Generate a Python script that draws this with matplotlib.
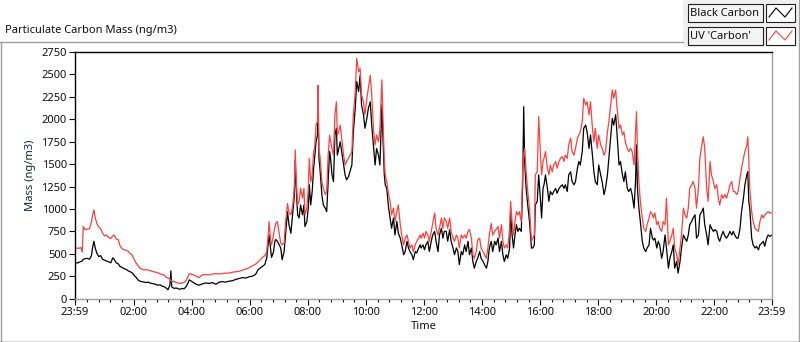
import numpy as np
import matplotlib
matplotlib.use('Agg')
import matplotlib.pyplot as plt
from matplotlib.lines import Line2D
from matplotlib.patches import Rectangle

plt.rcParams['font.family'] = ['Noto Sans', 'DejaVu Sans']

# minutes after 23:59
time_min = [
    0, 6, 12, 15, 17, 21, 25, 30, 34, 36, 39, 42, 45, 49, 53, 57, 61, 65, 70, 74,
    78, 81, 85, 89, 93, 97, 101, 105, 110, 114, 118, 122, 126, 130, 134, 138, 143, 147, 151, 155,
    159, 163, 167, 171, 176, 180, 184, 188, 192, 196, 198, 200, 205, 209, 213, 217, 221, 225, 229, 234,
    236, 242, 249, 256, 263, 270, 277, 284, 291, 298, 304, 311, 318, 325, 332, 339, 346, 353, 360, 366,
    373, 378, 382, 387, 392, 396, 399, 401, 404, 406, 410, 413, 415, 418, 422, 425, 428, 432, 435, 439,
    442, 446, 450, 453, 455, 457, 460, 463, 466, 470, 473,
    475, 479, 482, 484, 487, 490, 493, 495, 498, 501, 502, 504, 506, 510, 513, 517, 520, 523, 526, 528,
    531, 534, 537, 540, 542, 545, 548, 551, 555, 558, 561, 565, 568, 572, 575, 579, 582, 586, 589, 592,
    596, 599, 603, 606, 610, 613, 617, 620, 623, 627, 630, 634, 636, 639, 641, 644, 648, 651, 654, 658,
    661, 665, 668, 672, 675, 679, 682, 686, 689, 692, 696, 699, 703, 706, 710, 713,
    715, 719, 722, 725, 729, 732, 736, 739, 743, 746, 750, 753, 757, 760, 763, 767, 770, 774, 777, 781,
    784, 788, 791, 794, 798, 801, 805, 808, 812, 815, 819, 822, 825, 829, 832, 836, 839, 843, 846, 850,
    853, 856, 860, 863, 867, 870, 874, 877, 881, 884, 887, 891, 894, 898, 900, 903, 906, 909, 912, 915,
    918, 922, 925, 927, 929, 932, 936, 939, 943, 946, 949,
    951, 955, 958, 961, 964, 967, 969, 972, 976, 979, 982, 986, 989, 993, 996, 1000, 1003, 1007, 1010, 1013,
    1017, 1020, 1024, 1027, 1031, 1034, 1038, 1041, 1044, 1048, 1051, 1055, 1058, 1062, 1065, 1069, 1072, 1075, 1079, 1082,
    1086, 1089, 1093, 1096, 1100, 1103, 1106, 1110, 1113, 1117, 1120, 1124, 1127, 1131, 1134, 1137, 1141, 1144, 1148, 1151,
    1155, 1158, 1160, 1162, 1165, 1168, 1172, 1175, 1179, 1182, 1186, 1189, 1193,
    1195, 1198, 1202, 1205, 1208, 1212, 1215, 1219, 1222, 1226, 1229, 1233, 1236, 1239, 1243, 1246, 1250, 1253, 1257, 1260,
    1264, 1267, 1270, 1274, 1277, 1281, 1284, 1288, 1291, 1295, 1298, 1301, 1305, 1308, 1312, 1315, 1319, 1322, 1326, 1329,
    1332, 1336, 1339, 1343, 1346, 1350, 1353, 1357, 1360, 1363, 1367, 1370, 1374, 1377, 1381, 1384, 1388, 1390, 1392, 1394,
    1398, 1401, 1405, 1408, 1412, 1415, 1419, 1422, 1425, 1429, 1432, 1436, 1440,
]

black_carbon = [
    397, 400, 415, 420, 440, 445, 450, 440, 480, 560, 640, 560, 510, 470, 480, 440, 430, 420, 410, 400,
    455, 440, 400, 390, 360, 350, 335, 330, 310, 300, 290, 260, 240, 210, 195, 190, 185, 180, 185, 175,
    170, 165, 160, 150, 155, 140, 135, 120, 100, 150, 310, 130, 115, 120, 110, 105, 115, 110, 130, 180,
    210, 190, 165, 150, 165, 175, 170, 180, 160, 185, 190, 185, 195, 200, 215, 225, 235, 230, 245, 250,
    270, 320, 340, 360, 380, 450, 600, 710, 560, 460, 520, 640, 660, 640, 600, 565, 435, 525, 710, 970,
    825, 730, 970, 1140, 1545, 1230, 935, 900, 1045, 935, 1045,
    805, 860, 1010, 1270, 1045, 1195, 1455, 1565, 1750, 1825, 2270, 1565, 1455, 1160, 1045, 1010, 970, 1305, 1640, 1565,
    1380, 1305, 1825, 1900, 1600, 1675, 1750, 1640, 1490, 1380, 1325, 1360, 1415, 1490, 1860, 2120, 2420, 2310, 2490, 2160,
    2050, 1900, 2010, 2120, 2195, 1935, 1675, 1490, 1675, 1600, 1490, 2160, 1825, 1380, 1270, 1230, 1010, 900, 785, 900,
    710, 860, 730, 675, 600, 490, 525, 640, 565, 525, 490, 435, 525, 510, 565, 600,
    565, 600, 545, 600, 640, 525, 640, 710, 750, 640, 525, 710, 785, 675, 750, 750, 640, 770, 640, 565,
    490, 565, 525, 380, 525, 490, 600, 525, 640, 490, 565, 415, 340, 415, 450, 525, 450, 415, 380, 340,
    415, 565, 640, 525, 640, 600, 675, 525, 640, 490, 415, 490, 450, 565, 970, 710, 565, 710, 825, 750,
    785, 750, 1305, 2140, 1530, 1230, 1010, 860, 565, 565, 600,
    1045, 1085, 1380, 1150, 900, 1230, 1270, 1380, 1230, 1085, 1195, 1160, 1195, 1230, 1175, 1230, 1250, 1270, 1230, 1270,
    1195, 1380, 1415, 1305, 1270, 1305, 1455, 1530, 1490, 1640, 1900, 1935, 1860, 1675, 1825, 1600, 1415, 1305, 1270, 1490,
    1380, 1305, 1160, 1230, 1380, 1565, 1750, 2010, 1935, 2050, 1825, 1490, 1530, 1380, 1305, 1415, 1230, 1195, 1230, 1160,
    1010, 1305, 1715, 1230, 1010, 860, 640, 565, 525, 565, 600, 785, 675,
    655, 675, 565, 640, 600, 450, 525, 710, 565, 340, 450, 525, 600, 340, 415, 285, 415, 565, 710, 675,
    640, 710, 825, 860, 900, 935, 675, 710, 935, 970, 1010, 825, 710, 600, 825, 785, 750, 770, 750, 675,
    640, 710, 750, 695, 675, 710, 750, 710, 750, 710, 675, 675, 785, 970, 1120, 1270, 1380, 1415, 1085, 1010,
    675, 600, 565, 585, 545, 600, 620, 640, 585, 675, 710, 695, 710,
]

uv_carbon = [
    570, 560, 570, 520, 805, 770, 775, 780, 860, 920, 990, 900, 840, 800, 780, 730, 700, 710, 680, 670,
    700, 710, 665, 660, 590, 560, 545, 540, 530, 500, 490, 440, 400, 370, 340, 330, 320, 325, 320, 315,
    305, 300, 295, 290, 275, 270, 265, 240, 230, 220, 200, 195, 190, 180, 175, 170, 175, 180, 200, 250,
    280, 270, 255, 235, 265, 270, 265, 275, 280, 275, 280, 285, 285, 295, 300, 305, 320, 330, 345, 365,
    385, 410, 430, 460, 480, 520, 700, 860, 650, 600, 710, 800, 840, 860, 720, 620, 600, 620, 850, 1060,
    960, 935, 1045, 1230, 1660, 1340, 1045, 1085, 1230, 1120, 1230,
    935, 1010, 1230, 1565, 1305, 1380, 1640, 1675, 1935, 1975, 2380, 1640, 1600, 1305, 1230, 1160, 1195, 1600, 1825, 1750,
    1675, 1600, 2050, 2195, 1825, 1860, 1935, 1790, 1600, 1490, 1530, 1565, 1600, 1640, 2050, 2310, 2680, 2530, 2565, 2270,
    2195, 2050, 2235, 2345, 2490, 2270, 1860, 1715, 1825, 1750, 1900, 2440, 2050, 1530, 1380, 1305, 1160, 1085, 935, 1010,
    860, 970, 1045, 825, 710, 600, 675, 710, 640, 565, 600, 525, 600, 640, 675, 710,
    675, 730, 675, 750, 710, 640, 750, 840, 955, 785, 710, 785, 900, 785, 900, 860, 785, 900, 750, 675,
    640, 710, 675, 565, 710, 675, 710, 675, 750, 770, 675, 490, 450, 525, 655, 675, 565, 525, 490, 450,
    565, 710, 840, 710, 750, 770, 805, 675, 825, 640, 565, 600, 565, 785, 1085, 860, 710, 860, 970, 935,
    970, 860, 1455, 1600, 1675, 1415, 1160, 1010, 640, 675, 710,
    1380, 1415, 2030, 1675, 1380, 1530, 1565, 1640, 1455, 1380, 1490, 1415, 1490, 1530, 1455, 1530, 1565, 1585, 1530, 1600,
    1565, 1715, 1790, 1640, 1600, 1675, 1790, 1825, 1860, 1975, 2235, 2160, 2195, 2050, 2195, 1900, 1750, 1900, 1675, 1825,
    1715, 1675, 1600, 1640, 1860, 1975, 2120, 2325, 2235, 2325, 2120, 1900, 1935, 1825, 1860, 1750, 1675, 1640, 1675, 1640,
    1490, 1860, 2085, 1675, 1305, 1085, 900, 785, 750, 825, 900, 970, 935,
    900, 955, 825, 860, 785, 750, 860, 825, 1120, 600, 640, 710, 785, 565, 490, 380, 565, 710, 1010, 935,
    900, 1010, 1230, 1270, 1305, 1230, 1010, 1230, 1565, 1715, 1805, 1675, 1230, 1085, 1530, 1380, 1305, 1230, 1270, 1120,
    1045, 1160, 1120, 1160, 1120, 1195, 1270, 1305, 1195, 1195, 1160, 1195, 1340, 1455, 1565, 1640, 1715, 1805, 1565, 1230,
    970, 860, 785, 770, 750, 860, 935, 900, 935, 955, 970, 955, 960,
]

tick_pos = [0, 121, 241, 361, 481, 601, 721, 841, 961, 1081, 1201, 1321, 1440]
tick_labels = ['23:59', '02:00', '04:00', '06:00', '08:00', '10:00', '12:00',
               '14:00', '16:00', '18:00', '20:00', '22:00', '23:59']
y_ticks = list(range(0, 2751, 250))

W, H = 800, 342
FS = 8
fig = plt.figure(figsize=(W / 100, H / 100), dpi=100)
fig.patch.set_facecolor('white')


def px(x, y):
    return x / W, 1 - y / H


# chart panel frame
fig.add_artist(Line2D([0 / W, 683 / W], [1 - 42 / H] * 2, color='#a0a0a0', lw=1))
fig.add_artist(Line2D([1 / W] * 2, [1 - 42 / H, 0], color='#a0a0a0', lw=1))
fig.add_artist(Line2D([0, 1], [0.5 / H] * 2, color='#202020', lw=1))
fig.add_artist(Line2D([798.5 / W] * 2, [0, 1], color='#a0a0a0', lw=1))
fig.add_artist(Rectangle(px(683, 47), 115 / W, 47 / H, transform=fig.transFigure,
                         facecolor='#f0f0f0', edgecolor='none', zorder=0))

fig.text(5 / W, 1 - 31 / H, 'Particulate Carbon Mass (ng/m3)', fontsize=FS,
         ha='left', va='center', color='#101010')

# legend boxes
legend_names = ['Black Carbon', "UV 'Carbon'"]
legend_colors = ['#000000', '#ff4040']
for i, (name, col) in enumerate(zip(legend_names, legend_colors)):
    top = 4 + i * 23
    fig.add_artist(Rectangle(px(688, top + 18), 75 / W, 18 / H, transform=fig.transFigure,
                             facecolor='#f4f4f4', edgecolor='#202020', lw=0.8))
    fig.text(690.5 / W, 1 - (top + 9.5) / H, name, fontsize=FS, ha='left', va='center',
             color='#101010')
    fig.add_artist(Rectangle(px(766, top + 18), 29 / W, 18 / H, transform=fig.transFigure,
                             facecolor='white', edgecolor='#202020', lw=0.8))
    gx = [769, 776, 785, 792]
    gy = [top + 13, top + 4, top + 13, top + 4]
    fig.add_artist(Line2D([g / W for g in gx], [1 - g / H for g in gy], color=col, lw=0.8))

ax = fig.add_axes([75 / W, 1 - 298.7 / H, 697 / W, 246.7 / H])
ax.plot(time_min, black_carbon, color='#000000', lw=0.9)
ax.plot(time_min, uv_carbon, color='#ff4040', lw=0.9)

ax.set_xlim(0, 1440)
ax.set_ylim(0, 2750)
ax.set_xticks(tick_pos)
ax.set_xticklabels(tick_labels)
ax.set_xticks([m for m in range(1, 1440, 24) if m not in tick_pos], minor=True)
ax.set_yticks(y_ticks)
ax.tick_params(axis='both', which='major', direction='out', length=4, width=0.8,
               labelsize=FS, colors='#101010', pad=2)
ax.tick_params(axis='x', which='minor', direction='out', length=2, width=0.8, color='#101010')

for side in ['left', 'top']:
    ax.spines[side].set_color('#000000')
    ax.spines[side].set_linewidth(1)
for side in ['right', 'bottom']:
    ax.spines[side].set_color('#a0a0a0')
    ax.spines[side].set_linewidth(1)

ax.set_xlabel('Time', fontsize=FS, color='#101010', labelpad=2)
ax.set_ylabel('Mass (ng/m3)', fontsize=FS, color='#10263a', labelpad=4)

fig.savefig('out.png', dpi=100)
